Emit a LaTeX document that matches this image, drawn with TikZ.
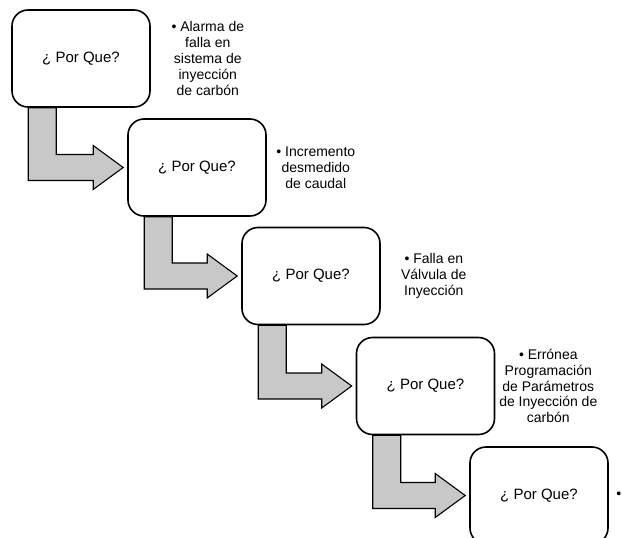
\documentclass[tikz,border=0pt]{standalone}
\usepackage{fontspec}
\setmainfont{Liberation Sans}
\usetikzlibrary{calc}
\definecolor{arrowgray}{RGB}{200,200,200}
\pgfdeclarelayer{background}
\pgfsetlayers{background,main}
\tikzset{
  whybox/.style={draw=black, line width=1.6pt, fill=white, rounded corners=16pt,
    minimum width=138pt, minimum height=97pt, inner sep=0pt,
    font=\fontsize{15}{17}\selectfont},
  reason/.style={align=center, inner sep=0pt,
    font=\fontsize{14}{15.8}\selectfont},
  bentarrow/.style={draw=black, line width=1.1pt, fill=arrowgray, line join=miter}
}
% bent block arrow from the bottom of box #1 to the left side of box #2
\newcommand{\bentlink}[2]{%
  \draw[bentarrow]
    ($(#1.south west)+(17,0)$) -- ($(#1.south west)+(45,0)$)
    |- ($(#2.west)+(-34,-13)$) -- ++(0,-9)
    -- ($(#2.west)+(-4,0)$)
    -- ($(#2.west)+(-34,22)$) -- ++(0,-9)
    -| ($(#1.south west)+(17,0)$) -- cycle;}
\begin{document}
\begin{tikzpicture}[x=1pt, y=-1pt]
  \useasboundingbox (0,0) rectangle (622,538);
  \clip (0,0) rectangle (622,538);

  % the five question boxes
  \node[whybox] (b1) at (81,58.5)  {¿ Por Que?};
  \node[whybox] (b2) at (197,167.5) {¿ Por Que?};
  \node[whybox] (b3) at (311,276)  {¿ Por Que?};
  \node[whybox] (b4) at (425.5,386) {¿ Por Que?};
  \node[whybox] (b5) at (539,495.5) {¿ Por Que?};

  % connecting arrows, kept beneath the boxes
  \begin{pgfonlayer}{background}
    \bentlink{b1}{b2}
    \bentlink{b2}{b3}
    \bentlink{b3}{b4}
    \bentlink{b4}{b5}
  \end{pgfonlayer}

  % answers beside each box
  \node[reason] (t1) at ($(b1.east)+(57,0)$) {• Alarma de\\falla en\\sistema de\\inyección\\de carbón};
  \node[reason] (t2) at ($(b2.east)+(49,0)$) {• Incremento\\desmedido\\de caudal};
  \node[reason] (t3) at ($(b3.east)+(53,0)$) {• Falla en\\Válvula de\\Inyección};
  \node[reason] (t4) at ($(b4.east)+(53,0)$) {• Errónea\\Programación\\de Parámetros\\de Inyección de\\carbón};
  \node[reason] (t5) at ($(b5.east)+(10,0)$) {•};
\end{tikzpicture}
\end{document}
